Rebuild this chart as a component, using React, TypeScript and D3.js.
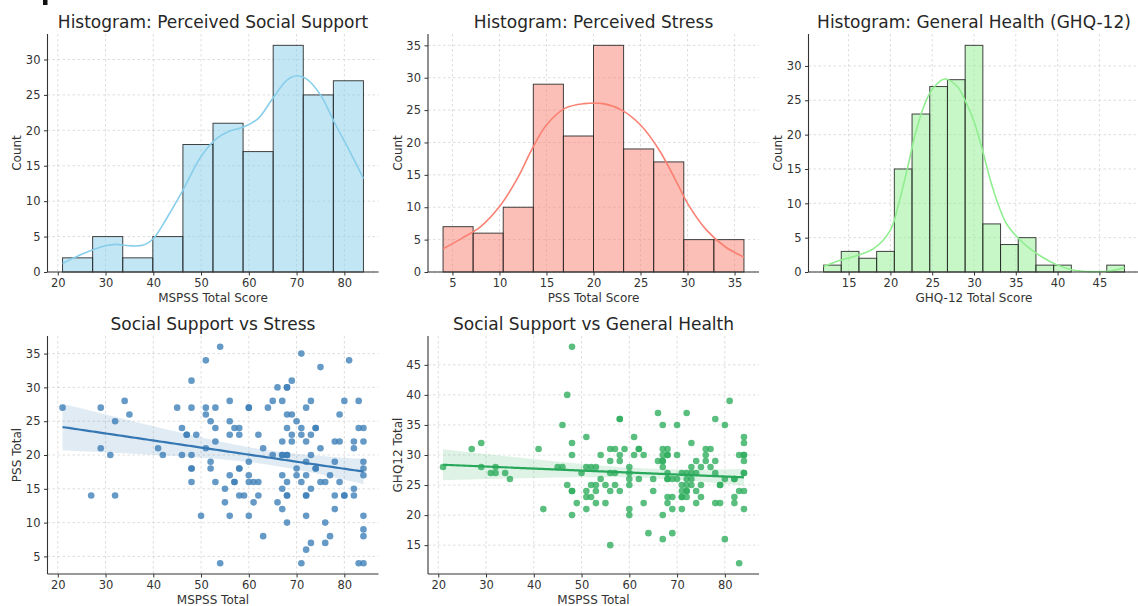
import React, { useEffect, useRef } from 'react';
import * as d3 from 'd3';

const WIDTH = 1138;
const HEIGHT = 606;
const FONT = '"DejaVu Sans", sans-serif';

// histogram counts (equal-width bins between min and max)
const mspssCounts = [2, 5, 2, 5, 18, 21, 17, 32, 25, 27];
const mspssRange: [number, number] = [21, 84];
const pssCounts = [7, 6, 10, 29, 21, 35, 19, 17, 5, 5];
const pssRange: [number, number] = [4, 36];
const ghqCounts = [1, 3, 2, 3, 15, 23, 27, 28, 33, 7, 4, 5, 1, 1, 0, 0, 1];
const ghqRange: [number, number] = [12, 48];

// kde curves (score, count)
const mspssKde: [number, number][] = [
  [21, 1.2], [25, 2.5], [30, 3.7], [32, 3.9], [35, 3.7], [38, 3.8], [40, 4.7], [43, 7.8],
  [46, 11.3], [50, 16.3], [53, 18.7], [56, 19.9], [59, 20.5], [62, 21.7], [65, 24.5],
  [68, 27.1], [70, 27.7], [72, 27.3], [75, 25], [78, 21], [81, 17.2], [84, 13.2],
]
const pssKde: [number, number][] = [
  [4, 3.6], [6, 5.2], [8, 7.0], [10, 10.1], [12, 14.7], [13.5, 19.1], [15, 22.7], [17, 25.3],
  [19, 26.0], [21, 26.0], [23, 25.0], [25, 22.7], [27, 18.8], [29, 13.4], [30, 10.6],
  [32, 6.5], [34, 3.9], [36, 2.3],
]
const ghqKde: [number, number][] = [
  [12, 0.8], [14, 1.7], [16, 2.4], [18, 3.4], [20, 6.1], [21, 10], [22, 14.9], [23, 20.2],
  [24, 24.1], [25, 26.6], [26.5, 28.1], [28, 27], [29, 24.8], [30, 21.9], [31, 17.8],
  [32, 13.2], [33, 9.5], [34, 6.8], [36, 4.1], [38, 2.3], [40, 1], [42, 0.25], [44, 0.05],
  [46, 0.1], [48, 0.6],
]

// scatter: (MSPSS total, PSS total)
const supportStress: [number, number][] = [
  [21, 27], [27, 14], [29, 27], [29, 21], [31, 20], [32, 25], [32, 14], [34, 28], [35, 26],
  [41, 21], [42, 20], [45, 27], [46, 24], [46, 20], [47, 23], [47, 23], [48, 31], [48, 27],
  [48, 20], [48, 18], [48, 18], [48, 16], [49, 23], [50, 11], [51, 34], [51, 27], [51, 26],
  [51, 21], [52, 25], [52, 19], [52, 18], [53, 27], [53, 24], [53, 22], [53, 16], [54, 36],
  [54, 4], [55, 15], [55, 13], [56, 28], [56, 25], [56, 23], [56, 17], [56, 11], [57, 24],
  [57, 16], [57, 16], [58, 24], [58, 23], [58, 18], [58, 18], [58, 14], [59, 14], [60, 27],
  [60, 27], [60, 19], [60, 17], [60, 16], [60, 11], [61, 16], [61, 13], [62, 23], [62, 16],
  [62, 14], [63, 21], [63, 8], [64, 27], [65, 28], [65, 20], [66, 30], [66, 13], [67, 28],
  [67, 22], [67, 20], [67, 20], [67, 17], [67, 15], [67, 12], [68, 30], [68, 30], [68, 26],
  [68, 24], [68, 20], [68, 20], [68, 16], [68, 14], [68, 14], [68, 10], [69, 31], [69, 26],
  [69, 23], [69, 22], [70, 25], [70, 18], [70, 17], [71, 35], [71, 24], [71, 23], [71, 16],
  [71, 4], [72, 27], [72, 22], [72, 19], [72, 17], [72, 14], [72, 14], [72, 11], [72, 6],
  [73, 28], [73, 23], [73, 20], [73, 15], [73, 7], [74, 24], [74, 24], [74, 18], [74, 18],
  [75, 33], [75, 21], [75, 16], [76, 16], [76, 10], [76, 7], [77, 17], [77, 8], [78, 22],
  [78, 19], [78, 14], [78, 12], [79, 26], [79, 22], [79, 16], [80, 28], [80, 14], [80, 14],
  [81, 34], [82, 22], [82, 21], [82, 15], [82, 14], [83, 28], [83, 24], [83, 4], [84, 24],
  [84, 22], [84, 19], [84, 18], [84, 17], [84, 11], [84, 9], [84, 8], [84, 4],
]

// scatter: (MSPSS total, GHQ12 total)
const supportHealth: [number, number][] = [
  [21, 28], [27, 31], [29, 32], [29, 28], [31, 27], [32, 28], [32, 27], [34, 27], [35, 26],
  [41, 31], [42, 21], [45, 28], [46, 35], [46, 28], [47, 40], [47, 25], [48, 48], [48, 32],
  [48, 30], [48, 24], [48, 24], [48, 20], [49, 22], [50, 27], [51, 33], [51, 28], [51, 24],
  [51, 23], [51, 21], [52, 28], [52, 25], [52, 23], [53, 28], [53, 25], [53, 24], [53, 22],
  [54, 30], [54, 26], [55, 25], [55, 22], [56, 31], [56, 29], [56, 27], [56, 24], [56, 15],
  [57, 31], [57, 27], [57, 25], [58, 36], [58, 36], [58, 30], [58, 29], [58, 24], [59, 31],
  [60, 28], [60, 27], [60, 26], [60, 25], [60, 21], [60, 20], [61, 33], [61, 30], [62, 31],
  [62, 31], [62, 26], [63, 30], [63, 22], [64, 17], [65, 26], [65, 24], [66, 37], [66, 29],
  [67, 35], [67, 31], [67, 30], [67, 29], [67, 29], [67, 28], [67, 20], [67, 16], [68, 31],
  [68, 30], [68, 30], [68, 27], [68, 26], [68, 26], [68, 23], [68, 22], [69, 26], [69, 23],
  [69, 21], [69, 17], [70, 35], [70, 30], [70, 26], [71, 27], [71, 25], [71, 24], [71, 23],
  [71, 23], [71, 21], [72, 37], [72, 27], [72, 26], [72, 25], [72, 24], [72, 24], [72, 23],
  [73, 32], [73, 28], [73, 27], [73, 26], [73, 25], [74, 29], [74, 27], [74, 24], [74, 22],
  [75, 28], [75, 25], [75, 23], [76, 31], [76, 30], [76, 29], [77, 31], [77, 28], [78, 36],
  [78, 29], [78, 27], [78, 22], [79, 25], [79, 25], [79, 22], [80, 35], [80, 26], [80, 16],
  [81, 39], [82, 26], [82, 26], [82, 23], [82, 22], [83, 30], [83, 24], [83, 12], [84, 33],
  [84, 32], [84, 30], [84, 30], [84, 29], [84, 27], [84, 27], [84, 24], [84, 21],
]

const AX_W = 331
const AX_H = 238
const colX = [47.5, 428, 808.5]
const rowY = [34, 336]

type G = d3.Selection<SVGGElement, unknown, null, undefined>

const frame = (
  g: G,
  x: d3.ScaleLinear<number, number>,
  y: d3.ScaleLinear<number, number>,
  xTicks: number[],
  yTicks: number[],
  title: string,
  xLabel: string,
  yLabel: string
) => {
  const grid = g.append('g').attr('stroke', '#d4d4d4').attr('stroke-width', 0.8).attr('stroke-dasharray', '2.5,2.5')
  grid.selectAll('.gx').data(xTicks).enter().append('line')
    .attr('x1', (d) => x(d)).attr('x2', (d) => x(d)).attr('y1', 0).attr('y2', AX_H)
  grid.selectAll('.gy').data(yTicks).enter().append('line')
    .attr('x1', 0).attr('x2', AX_W).attr('y1', (d) => y(d)).attr('y2', (d) => y(d))

  const styleAxis = (a: G) => {
    a.select('.domain').remove()
    a.selectAll('line').attr('stroke', '#333')
    a.selectAll('text').attr('fill', '#333').attr('font-size', 11.5).attr('font-family', FONT)
  }
  g.append('g').attr('class', 'xaxis').attr('transform', `translate(0,${AX_H})`)
    .call(d3.axisBottom(x).tickValues(xTicks).tickSize(3.5).tickPadding(3.5).tickFormat(d3.format('d')))
    .call(styleAxis)
  g.append('g').attr('class', 'yaxis')
    .call(d3.axisLeft(y).tickValues(yTicks).tickSize(3.5).tickPadding(3.5).tickFormat(d3.format('d')))
    .call(styleAxis)

  g.append('text').attr('x', AX_W / 2).attr('y', -6.5).attr('text-anchor', 'middle')
    .attr('font-size', 17).attr('font-family', FONT).attr('fill', '#262626').text(title)
  g.append('text').attr('x', AX_W / 2).attr('y', AX_H + 29.5).attr('text-anchor', 'middle')
    .attr('font-size', 12).attr('font-family', FONT).attr('fill', '#333').text(xLabel)
  g.append('text').attr('transform', 'rotate(-90)').attr('x', -AX_H / 2).attr('y', -26.5)
    .attr('text-anchor', 'middle').attr('font-size', 12).attr('font-family', FONT).attr('fill', '#333').text(yLabel)
}

const spines = (g: G) => {
  g.append('line').attr('x1', 0).attr('x2', 0).attr('y1', 0).attr('y2', AX_H).attr('stroke', '#333').attr('stroke-width', 1.1)
  g.append('line').attr('x1', 0).attr('x2', AX_W).attr('y1', AX_H).attr('y2', AX_H).attr('stroke', '#333').attr('stroke-width', 1.1)
}

const histogram = (
  g: G, counts: number[], range: [number, number], kde: [number, number][], color: string,
  xTicks: number[], yTicks: number[], title: string, xLabel: string
) => {
  const pad = (range[1] - range[0]) * 0.05
  const x = d3.scaleLinear().domain([range[0] - pad, range[1] + pad]).range([0, AX_W])
  const y = d3.scaleLinear().domain([0, (d3.max(counts) as number) * 1.05]).range([AX_H, 0])
  frame(g, x, y, xTicks, yTicks, title, xLabel, 'Count')

  const step = (range[1] - range[0]) / counts.length
  g.append('g').selectAll('rect').data(counts).enter().append('rect')
    .attr('x', (d, i) => x(range[0] + i * step))
    .attr('width', (d, i) => x(range[0] + (i + 1) * step) - x(range[0] + i * step))
    .attr('y', (d) => y(d))
    .attr('height', (d) => y(0) - y(d))
    .attr('fill', color).attr('fill-opacity', 0.5)
    .attr('stroke', '#222').attr('stroke-opacity', 0.85).attr('stroke-width', 1)

  const line = d3.line<[number, number]>().x((d) => x(d[0])).y((d) => y(d[1])).curve(d3.curveCatmullRom)
  g.append('path').attr('d', line(kde)).attr('fill', 'none').attr('stroke', color).attr('stroke-width', 1.6)
  spines(g)
}

// least squares fit with a 95% band, like seaborn's regplot
const regression = (pts: [number, number][]) => {
  const n = pts.length
  const mx = d3.mean(pts, (d) => d[0]) as number
  const my = d3.mean(pts, (d) => d[1]) as number
  const sxx = d3.sum(pts, (d) => (d[0] - mx) ** 2)
  const sxy = d3.sum(pts, (d) => (d[0] - mx) * (d[1] - my))
  const b = sxy / sxx
  const a = my - b * mx
  const s = Math.sqrt(d3.sum(pts, (d) => (d[1] - a - b * d[0]) ** 2) / (n - 2))
  const lo = d3.min(pts, (d) => d[0]) as number
  const hi = d3.max(pts, (d) => d[0]) as number
  return d3.range(0, 101).map((i) => {
    const xv = lo + (i / 100) * (hi - lo)
    const yv = a + b * xv
    const e = 1.976 * s * Math.sqrt(1 / n + (xv - mx) ** 2 / sxx)
    return { x: xv, y: yv, lo: yv - e, hi: yv + e }
  })
}

const scatter = (
  g: G, pts: [number, number][], yRange: [number, number], dot: string, lineColor: string,
  yTicks: number[], title: string, yLabel: string
) => {
  const xr = d3.extent(pts, (d) => d[0]) as [number, number]
  const xp = (xr[1] - xr[0]) * 0.05
  const yp = (yRange[1] - yRange[0]) * 0.05
  const x = d3.scaleLinear().domain([xr[0] - xp, xr[1] + xp]).range([0, AX_W])
  const y = d3.scaleLinear().domain([yRange[0] - yp, yRange[1] + yp]).range([AX_H, 0])
  frame(g, x, y, [20, 30, 40, 50, 60, 70, 80], yTicks, title, 'MSPSS Total', yLabel)

  g.append('g').selectAll('circle').data(pts).enter().append('circle')
    .attr('cx', (d) => x(d[0])).attr('cy', (d) => y(d[1])).attr('r', 3.3)
    .attr('fill', dot).attr('fill-opacity', 0.8)

  const fit = regression(pts)
  const band = d3.area<{ x: number; lo: number; hi: number }>()
    .x((d) => x(d.x)).y0((d) => y(d.lo)).y1((d) => y(d.hi))
  g.append('path').attr('d', band(fit)).attr('fill', lineColor).attr('fill-opacity', 0.15)
  const line = d3.line<{ x: number; y: number }>().x((d) => x(d.x)).y((d) => y(d.y))
  g.append('path').attr('d', line(fit)).attr('fill', 'none').attr('stroke', lineColor).attr('stroke-width', 2.2)
  spines(g)
}

const App = () => {
  const ref = useRef<SVGSVGElement>(null)

  useEffect(() => {
    const svg = d3.select(ref.current)
    svg.selectAll('*').remove()
    svg.append('rect').attr('width', WIDTH).attr('height', HEIGHT).attr('fill', '#fff')
    // clipped remnant of a heading above the figure
    svg.append('rect').attr('x', 43).attr('y', 0).attr('width', 4.5).attr('height', 5).attr('fill', '#111')

    const panel = (c: number, r: number) =>
      svg.append('g').attr('transform', `translate(${colX[c]},${rowY[r]})`) as unknown as G

    histogram(panel(0, 0), mspssCounts, mspssRange, mspssKde, '#87CEEB',
      [20, 30, 40, 50, 60, 70, 80], [0, 5, 10, 15, 20, 25, 30],
      'Histogram: Perceived Social Support', 'MSPSS Total Score')
    histogram(panel(1, 0), pssCounts, pssRange, pssKde, '#FA8072',
      [5, 10, 15, 20, 25, 30, 35], [0, 5, 10, 15, 20, 25, 30, 35],
      'Histogram: Perceived Stress', 'PSS Total Score')
    histogram(panel(2, 0), ghqCounts, ghqRange, ghqKde, '#90EE90',
      [15, 20, 25, 30, 35, 40, 45], [0, 5, 10, 15, 20, 25, 30],
      'Histogram: General Health (GHQ-12)', 'GHQ-12 Total Score')

    scatter(panel(0, 1), supportStress, [4, 36], '#3f7fb8', '#3577b2',
      [5, 10, 15, 20, 25, 30, 35], 'Social Support vs Stress', 'PSS Total')
    scatter(panel(1, 1), supportHealth, [12, 48], '#2fae5e', '#27a85a',
      [15, 20, 25, 30, 35, 40, 45], 'Social Support vs General Health', 'GHQ12 Total')
  })

  return (
    <svg ref={ref} width={WIDTH} height={HEIGHT}
      style={{ position: 'absolute', left: 0, top: 0, display: 'block' }} />
  )
}

export default App
